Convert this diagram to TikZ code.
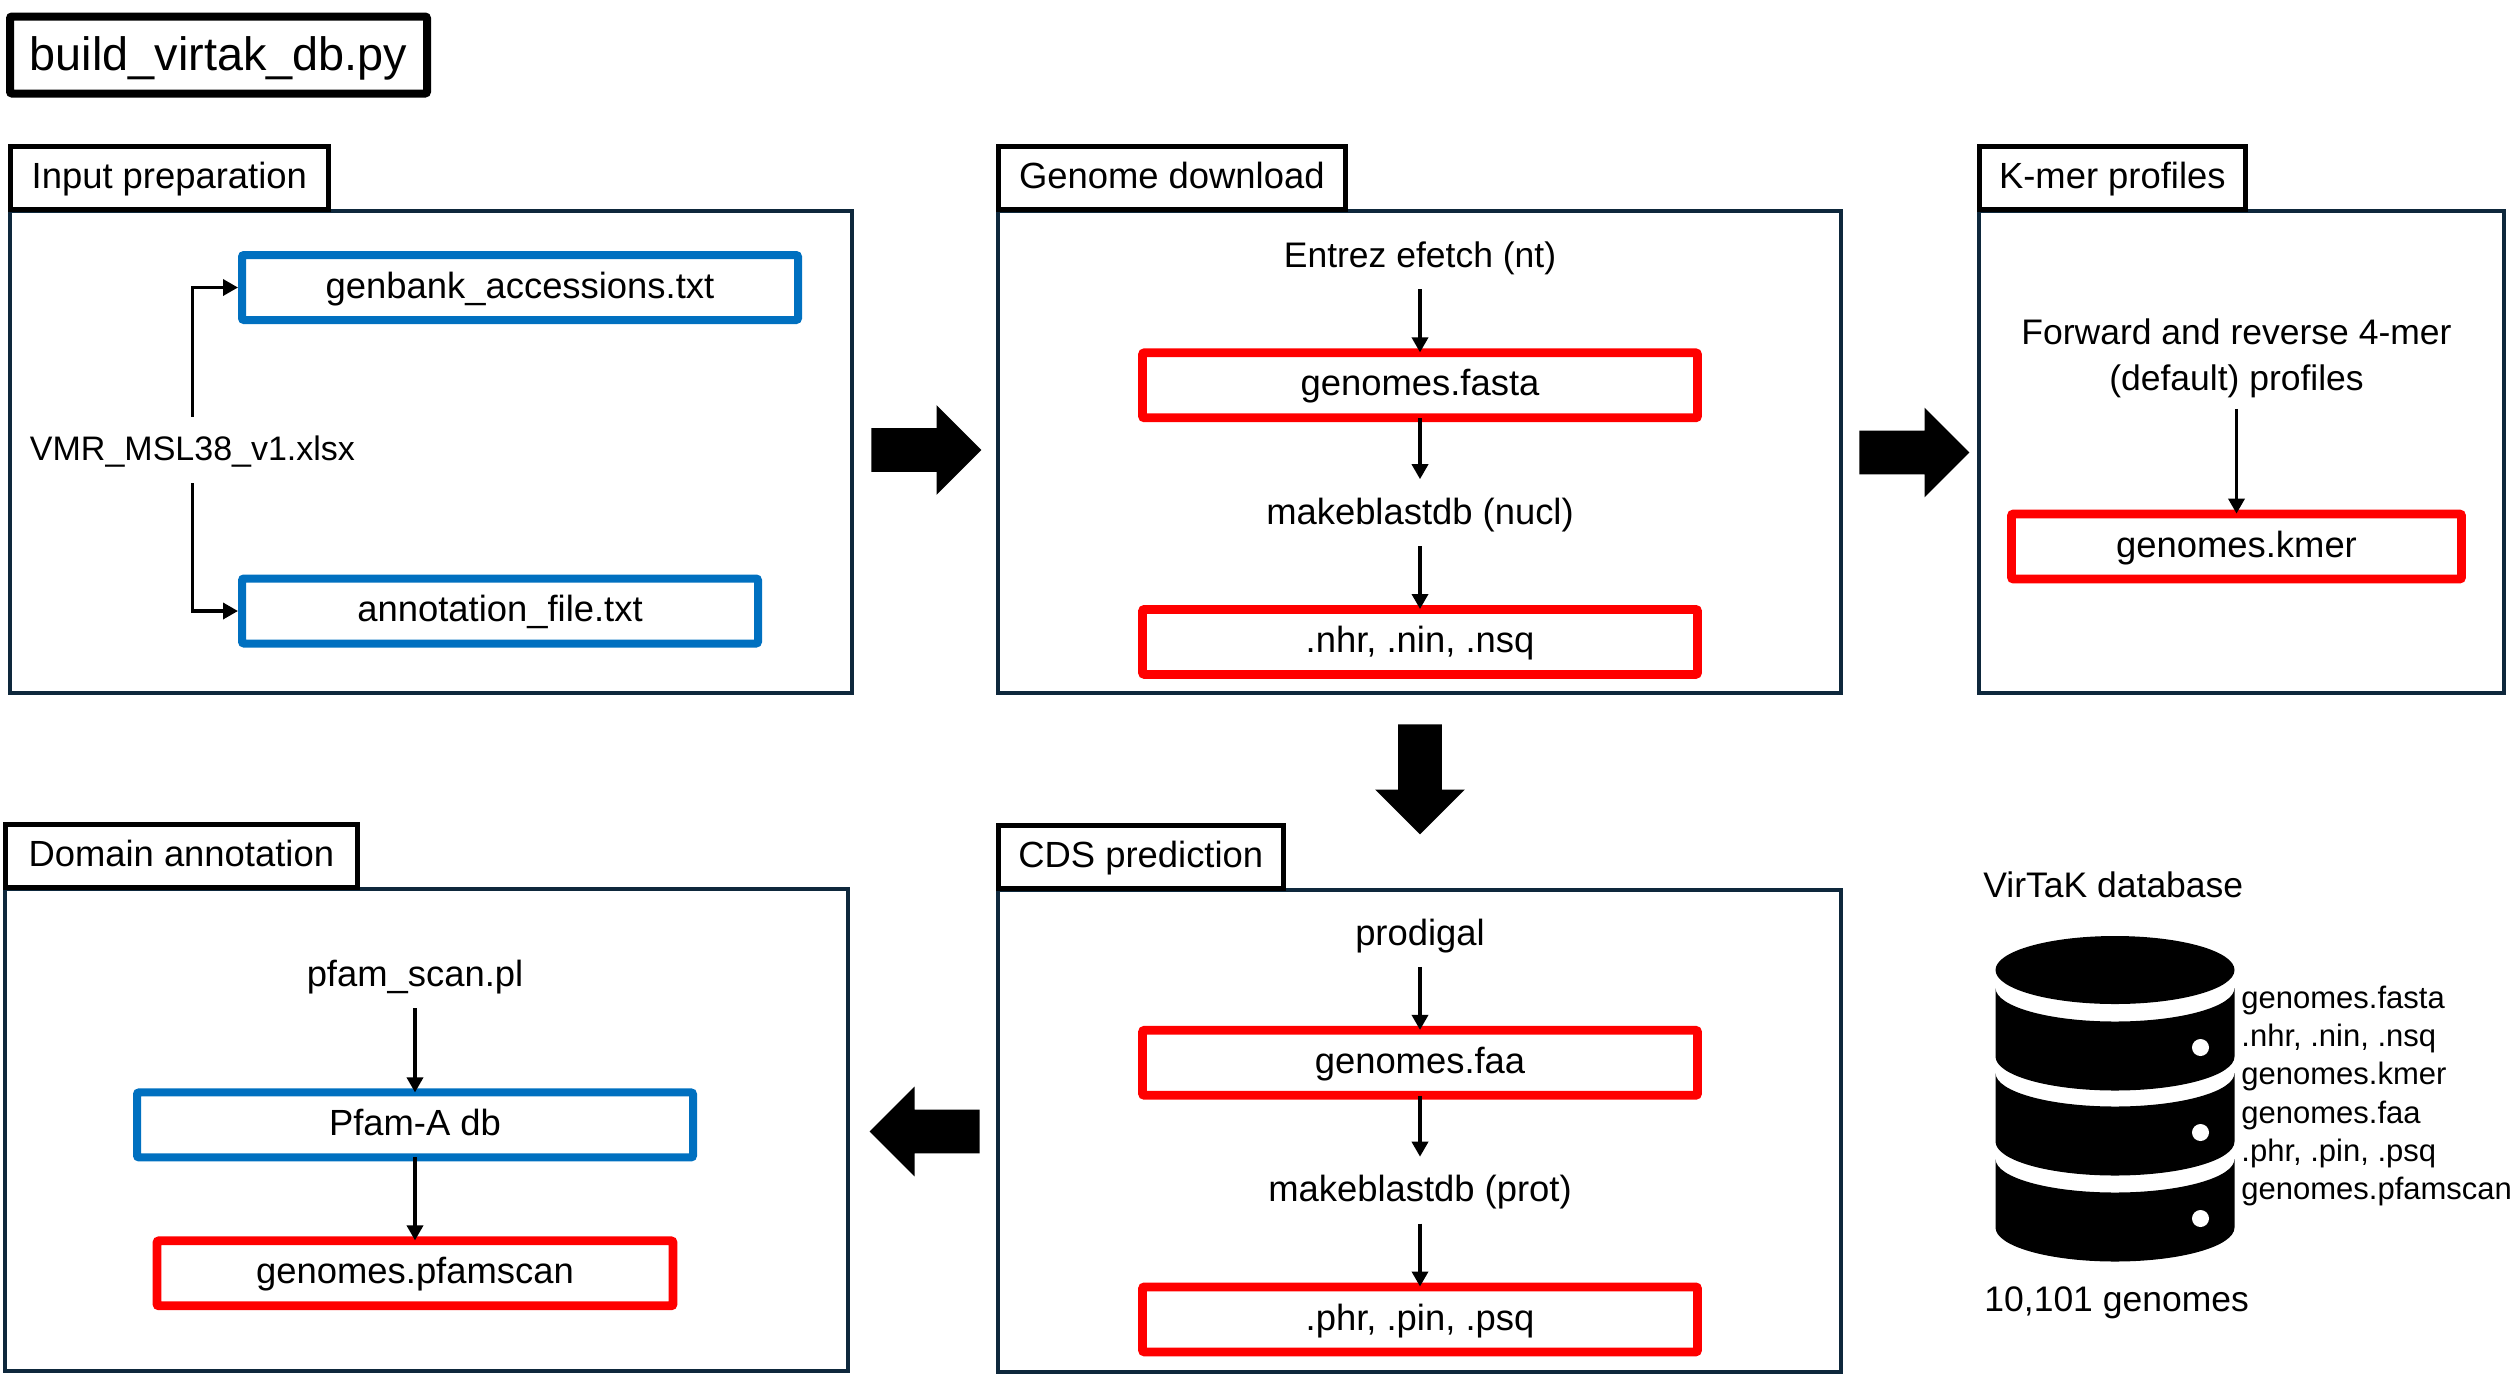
\documentclass[tikz,border=0pt]{standalone}
\usepackage{fontspec}
\setmainfont{Liberation Sans}
\usetikzlibrary{shapes.arrows, arrows.meta, positioning}
\definecolor{panelnavy}{RGB}{14,40,60}
\definecolor{inputblue}{RGB}{0,112,192}
\definecolor{outputred}{RGB}{255,0,0}
\newcommand{\mainsize}{\fontsize{18.2}{23}\selectfont}
\newcommand{\tightsize}{\fontsize{17.75}{23}\selectfont}
\tikzset{
  panel/.style={rectangle, draw=panelnavy, line width=2pt, minimum height=241pt},
  tabbox/.style={rectangle, draw=black, line width=2.3pt, fill=white, inner sep=0pt,
                 minimum height=31.5pt, font=\mainsize, text height=13.8pt, text depth=3.2pt,
                 anchor=south west, yshift=-1.5pt},
  titlebox/.style={rectangle, rounded corners=1pt, draw=black, line width=4pt,
                   minimum width=208.5pt, minimum height=38.5pt, inner sep=0pt,
                   font=\fontsize{23.4}{28}\selectfont, text height=18.2pt, text depth=2.8pt},
  filebox/.style={rectangle, rounded corners=1pt, minimum height=32.5pt,
                  inner sep=0pt, font=\mainsize, text height=13.8pt, text depth=3.2pt},
  inbox/.style={filebox, line width=4pt, draw=inputblue},
  outbox/.style={filebox, line width=4.4pt, draw=outputred},
  tool/.style={inner sep=0pt, font=\mainsize, text height=13.8pt, text depth=3.2pt},
  flow/.style={-{Triangle[length=7.5pt,width=8pt]}, line width=1.75pt, black},
  fromtool/.style={flow, shorten <=7.5pt, shorten >=-2pt},
  fromfile/.style={flow, shorten <=-2pt, shorten >=8.5pt},
  filefile/.style={flow, shorten <=-2pt, shorten >=-2pt},
  bigarrow/.style={single arrow, fill=black, anchor=tail, inner sep=0pt, inner ysep=10.75pt,
                   minimum height=55pt, single arrow head extend=11.5pt,
                   single arrow tip angle=90},
}
\begin{document}
\begin{tikzpicture}[x=0.5pt, y=-0.5pt, node distance=37pt]
  \useasboundingbox (0,0) rectangle (2517,1378);

  \node[titlebox] (title) at (218.5,55) {build\_virtak\_db.py};

  \node[panel, minimum width=421pt] (inputbox) at (431,452) {};
  \node[tabbox, minimum width=159pt] (inputtab) at (inputbox.north west) {Input preparation};
  \node[tool, font=\fontsize{17}{23}\selectfont] (vmr) at (192.5,450) {VMR\_MSL38\_v1.xlsx};
  \node[inbox, minimum width=278pt] (genbank) at (520,287.5) {genbank\_accessions.txt};
  \node[inbox, minimum width=258pt] (annot) at (500,611) {annotation\_file.txt};
  \draw[flow, shorten <=8pt] (vmr) |- (genbank);
  \draw[flow, shorten <=8pt] (vmr) |- (annot);

  \node[panel, minimum width=421.5pt] (genomebox) at (1419.5,452) {};
  \node[tabbox, minimum width=173.5pt] (genometab) at (genomebox.north west) {Genome download};
  \node[tool, font=\tightsize] (entrez) at (1420,257) {Entrez efetch (nt)};
  \node[outbox, minimum width=277.5pt, below=of entrez] (fasta) {genomes.fasta};
  \node[tool, below=of fasta] (blastn) {makeblastdb (nucl)};
  \node[outbox, minimum width=277.5pt, below=of blastn] (nhr) {.nhr, .nin, .nsq};
  \draw[fromtool] (entrez) -- (fasta);
  \draw[fromfile] (fasta) -- (blastn);
  \draw[fromtool] (blastn) -- (nhr);

  \node[panel, minimum width=262.5pt] (kmerbox) at (2241.5,452) {};
  \node[tabbox, minimum width=133pt] (kmertab) at (kmerbox.north west) {K-mer profiles};
  \node[inner sep=0pt, font=\tightsize, align=center] (forward) at (2236.5,358)
    {Forward and reverse 4-mer\\(default) profiles};
  \node[outbox, minimum width=225pt] (kmerout) at (2236.5,546.5) {genomes.kmer};
  \draw[fromtool, shorten <=5.5pt] (forward) -- (kmerout);

  \node[panel, minimum width=421.5pt] (cdsbox) at (1419.5,1130.5) {};
  \node[tabbox, minimum width=142.5pt] (cdstab) at (cdsbox.north west) {CDS prediction};
  \node[tool] (prodigal) at (1420,934.5) {prodigal};
  \node[outbox, minimum width=277.5pt, below=of prodigal] (faa) {genomes.faa};
  \node[tool, below=of faa] (blastp) {makeblastdb (prot)};
  \node[outbox, minimum width=277.5pt, below=of blastp] (phr) {.phr, .pin, .psq};
  \draw[fromtool] (prodigal) -- (faa);
  \draw[fromfile] (faa) -- (blastp);
  \draw[fromtool] (blastp) -- (phr);

  \node[panel, minimum width=421.5pt] (domainbox) at (426.5,1129.5) {};
  \node[tabbox, minimum width=176pt] (domaintab) at (domainbox.north west) {Domain annotation};
  \node[tool] (pfamscan) at (415,976) {pfam\_scan.pl};
  \node[inbox, minimum width=278pt, below=47.5pt of pfamscan] (pfamdb) {Pfam-A db};
  \node[outbox, minimum width=258pt, below=37.5pt of pfamdb] (pfamout) {genomes.pfamscan};
  \draw[fromtool] (pfamscan) -- (pfamdb);
  \draw[filefile] (pfamdb) -- (pfamout);

  \node[bigarrow] (arrowone) at (871,450) {};
  \node[bigarrow] (arrowtwo) at (1859,452.5) {};
  \node[bigarrow, rotate=-90] (arrowthree) at (1420,724) {};
  \node[bigarrow, rotate=180] (arrowfour) at (980,1131.5) {};

  \node[inner sep=0pt, font=\tightsize, anchor=west] (dbtitle) at (1983,885) {VirTaK database};
  \fill (2115,970) ellipse [x radius=119.5, y radius=34];
  \foreach \t in {988,1073,1159}{
    \fill (1995.5,\t) arc[start angle=180, end angle=0, x radius=119.5, y radius=33.5]
      -- ++(0,68.5) arc[start angle=0, end angle=180, x radius=119.5, y radius=34] -- cycle;
    \fill[white] (2200.5,{\t+59.5}) circle[radius=8.5];
  }
  \node[inner sep=0pt, anchor=west, align=left, font=\fontsize{15.5}{19.1}\selectfont] (dbfiles) at (2241,1096)
    {genomes.fasta\\.nhr, .nin, .nsq\\genomes.kmer\\genomes.faa\\.phr, .pin, .psq\\genomes.pfamscan};
  \node[inner sep=0pt, font=\tightsize, anchor=west] (dbcount) at (1984,1303) {10,101 genomes};
\end{tikzpicture}
\end{document}
